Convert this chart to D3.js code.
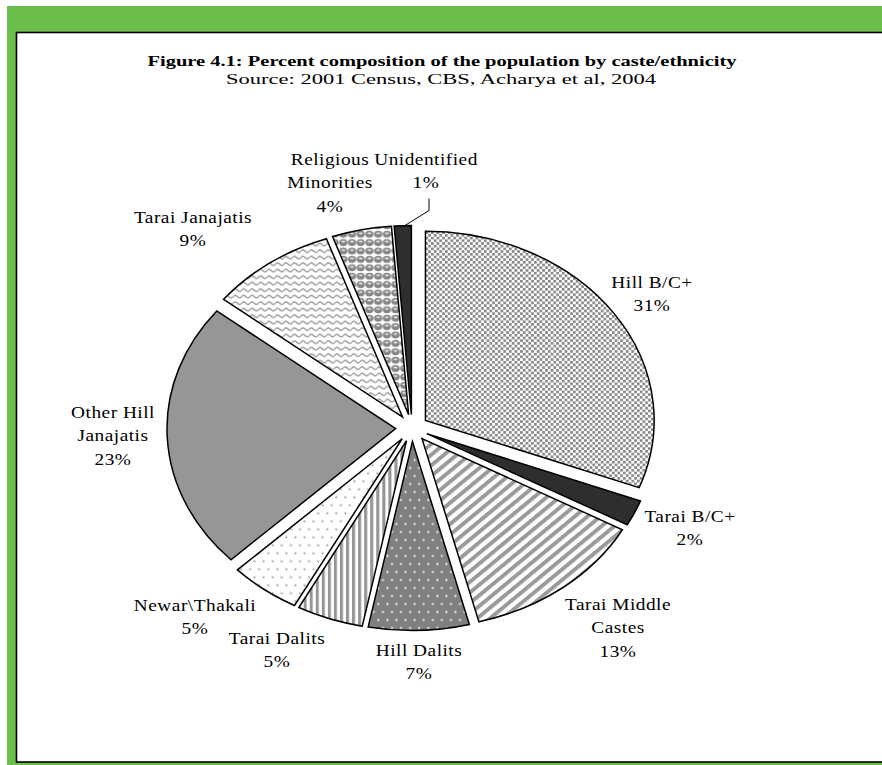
<!DOCTYPE html>
<html><head><meta charset="utf-8">
<script src="https://cdn.jsdelivr.net/npm/d3@7"></script>
<style>html,body{margin:0;padding:0;background:#fff;overflow:hidden;} svg{display:block}</style>
</head><body>
<svg id="chart" width="882" height="765"></svg>
<script>
// ---- data ----
const categories = ["Hill B/C+","Tarai B/C+","Tarai Middle Castes","Hill Dalits","Tarai Dalits","Newar\\Thakali","Other Hill Janajatis","Tarai Janajatis","Religious Minorities","Unidentified"];
const values = [30.8, 2.2, 13.0, 7.1, 4.7, 5.0, 22.9, 8.9, 4.2, 1.2];
const labelLines = [["Hill B/C+"],["Tarai B/C+"],["Tarai Middle","Castes"],["Hill Dalits"],["Tarai Dalits"],["Newar\\Thakali"],["Other Hill","Janajatis"],["Tarai Janajatis"],["Religious","Minorities"],["Unidentified"]];
const titleText = "Figure 4.1: Percent composition of the population by caste/ethnicity";
const subtitleText = "Source: 2001 Census, CBS, Acharya et al, 2004";

// ---- layout ----
const labelAnchors = [[652,288],[690,522],[618,610],[419,656],[277,644],[195,611],[113,418],[193,223],[330,165],[426,165]];
const fills = ["url(#pBC)","#2e2e2e","url(#pMid)","url(#pHD)","url(#pTD)","url(#pNew)","#969696","url(#pWave)","url(#pSph)","#2e2e2e"];
const W = 882, H = 765;
const cx = 412, cy = 428, R = 189, sx = 1.21, explode = 13.5;
const lineH = 23.5;
const fontSerif = "'Liberation Serif','Times New Roman',serif";

const svg = d3.select("#chart");

// frame
svg.append("rect").attr("x",7).attr("y",6).attr("width",W-7).attr("height",H-6).attr("fill","#6bbf4a");
svg.append("rect").attr("x",16.5).attr("y",32.5).attr("width",W).attr("height",729.5)
  .attr("fill","#fff").attr("stroke","#000").attr("stroke-width",1.6);

// patterns
const defs = svg.append("defs");
function pat(id, w, h, tr){
  const p = defs.append("pattern").attr("id",id).attr("patternUnits","userSpaceOnUse")
    .attr("width",w).attr("height",h);
  if (tr) p.attr("patternTransform",tr);
  return p;
}
let p;
p = pat("pBC", 4.6, 5.4);
p.append("rect").attr("width",4.6).attr("height",5.4).attr("fill","#fff");
p.append("rect").attr("x",0).attr("y",0).attr("width",2.2).attr("height",2.6).attr("fill","#858585");
p.append("rect").attr("x",2.3).attr("y",2.7).attr("width",2.2).attr("height",2.6).attr("fill","#858585");

p = pat("pMid", 7.5, 7.5, "rotate(45)");
p.append("rect").attr("width",7.5).attr("height",7.5).attr("fill","#fff");
p.append("rect").attr("width",3.6).attr("height",7.5).attr("fill","#9a9a9a");

p = pat("pHD", 7.5, 16);
p.append("rect").attr("width",7.5).attr("height",16).attr("fill","#808080");
p.append("circle").attr("cx",1.8).attr("cy",2.5).attr("r",0.9).attr("fill","#fff");
p.append("circle").attr("cx",5.55).attr("cy",10.5).attr("r",0.9).attr("fill","#fff");

p = pat("pTD", 5, 10);
p.append("rect").attr("width",5).attr("height",10).attr("fill","#fff");
p.append("rect").attr("width",2.5).attr("height",10).attr("fill","#959595");

p = pat("pNew", 7.5, 16);
p.append("rect").attr("width",7.5).attr("height",16).attr("fill","#fff");
p.append("circle").attr("cx",1.8).attr("cy",2.5).attr("r",0.9).attr("fill","#9a9a9a");
p.append("circle").attr("cx",5.55).attr("cy",10.5).attr("r",0.9).attr("fill","#9a9a9a");

p = pat("pWave", 7, 6.5);
p.append("rect").attr("width",7).attr("height",6.5).attr("fill","#fff");
p.append("path").attr("d","M0,3.2 Q1.75,0.6 3.5,3.2 T7,3.2").attr("fill","none")
  .attr("stroke","#959595").attr("stroke-width",1.3);

p = pat("pSph", 7.2, 8.4);
p.append("rect").attr("width",7.2).attr("height",8.4).attr("fill","#fff");
p.append("circle").attr("cx",3.6).attr("cy",4.2).attr("r",3.4).attr("fill","#858585");
p.append("ellipse").attr("cx",3.6).attr("cy",3.3).attr("rx",1.7).attr("ry",1.0).attr("fill","#e8e8e8");

// title
function stretchedText(x, y, txt, size, weight, target){
  const t = svg.append("text").attr("transform",`translate(${x},${y}) scale(${sx},1)`)
    .attr("text-anchor","middle").attr("font-family",fontSerif).attr("font-size",size)
    .attr("font-weight",weight).attr("fill","#000").text(txt);
  if (target) t.attr("textLength", target/sx).attr("lengthAdjust","spacingAndGlyphs");
  return t;
}
stretchedText(442, 66, titleText, 15, "bold", 589);
stretchedText(441, 84, subtitleText, 15, "normal", 430);

// pie
const pieGen = d3.pie().sort(null).value(d => d)(values);
const arc = d3.arc().innerRadius(0).outerRadius(R);
const total = d3.sum(values);
const fmt = d3.format(".0%");

const slices = svg.append("g").attr("transform",`translate(${cx},${cy}) scale(${sx},1)`);
slices.selectAll("path").data(pieGen).enter().append("path")
  .attr("transform", d => {
    const m = (d.startAngle + d.endAngle)/2;
    return `translate(${explode*Math.sin(m)},${-explode*Math.cos(m)})`;
  })
  .attr("d", arc)
  .attr("fill", (d,i) => fills[i])
  .attr("stroke","#000").attr("stroke-width",1.5).attr("vector-effect","non-scaling-stroke")
  .attr("stroke-linejoin","miter");

// labels
pieGen.forEach((d,i) => {
  const [ax, ay] = labelAnchors[i];
  const lines = labelLines[i].concat([fmt(d.value/total)]);
  const t = svg.append("text").attr("transform",`translate(${ax},${ay}) scale(${sx},1)`)
    .attr("text-anchor","middle").attr("font-family",fontSerif).attr("font-size",16)
    .attr("letter-spacing",0.4).attr("fill","#000");
  lines.forEach((ln,k) => t.append("tspan").attr("x",0).attr("y",k*lineH).text(ln));
});

// leader line for smallest slice (Unidentified)
{
  const i = categories.indexOf("Unidentified");
  const d = pieGen[i];
  const m = (d.startAngle + d.endAngle)/2;
  const [ax, ay] = labelAnchors[i];
  const px = cx + sx*(explode+R)*Math.sin(m), py = cy - (explode+R)*Math.cos(m);
  svg.append("path").attr("d", d3.line()([[ax+3, ay+lineH+10],[ax+3, ay+lineH+22],[px+2, py]]))
    .attr("fill","none").attr("stroke","#000").attr("stroke-width",1);
}
</script>
</body></html>
